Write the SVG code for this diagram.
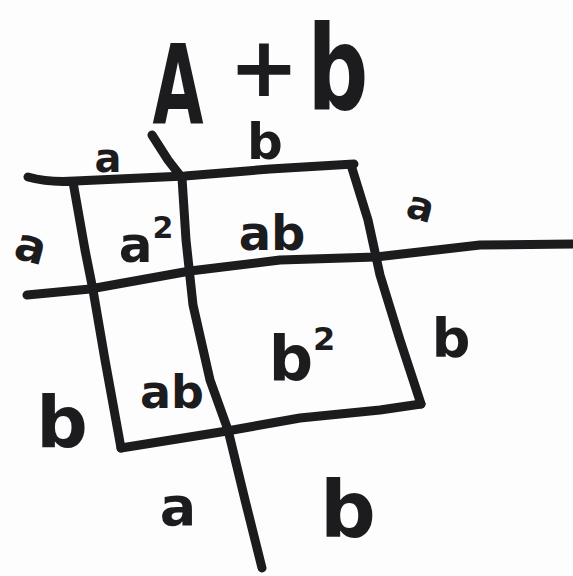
<svg xmlns="http://www.w3.org/2000/svg" width="573" height="576" viewBox="0 0 573 576">
<style>
.ln{fill:none;stroke:#1c1c1e;stroke-width:9;stroke-linecap:round;stroke-linejoin:round}
.t{font-family:"DejaVu Sans",sans-serif;font-weight:bold;fill:#1c1c1e;text-anchor:middle}
</style>
<rect width="573" height="576" fill="#fdfdfd"/>
<g id="grid">
<path class="ln" d="M28,177 Q50,183 75,181 L185,176 L270,169 L354,164"/>
<path class="ln" d="M73,182 L85,250 L93,290 L105,360 L121,448"/>
<path class="ln" d="M152,135 L168,160 L182,178 L186,240 L193,305 L210,380 L228,430 L245,500 L262,568"/>
<path class="ln" d="M351,165 L368,220 L380,275 L400,340 L421,404"/>
<path class="ln" d="M27,295 L90,289 L190,271 L280,260 L376,257 L480,245 L573,244"/>
<path class="ln" d="M121,448 L227,431 L300,418 L380,410 L421,404"/>
</g>
<g id="title">
<text class="t" x="0" y="0" font-size="110" transform="translate(178,124) scale(0.6,1)">A</text>
<text class="t" x="264" y="96" font-size="84">+</text>
<text class="t" x="0" y="0" font-size="118" transform="translate(338,110) scale(0.72,1)">b</text>
</g>
<g id="labels">
<text class="t" x="108" y="172" font-size="40">a</text>
<text class="t" x="265" y="159" font-size="50">b</text>
<text class="t" x="30" y="262" font-size="46" transform="rotate(15 30 250)">a</text>
<text class="t" x="420" y="220" font-size="40" transform="rotate(15 420 210)">a</text>
<text class="t" x="62" y="447" font-size="72">b</text>
<text class="t" x="451" y="357" font-size="54">b</text>
<text class="t" x="178" y="525" font-size="54">a</text>
<text class="t" x="348" y="537" font-size="78">b</text>
</g>
<g id="cells">
<text class="t" x="146" y="262" font-size="50">a<tspan font-size="30" dy="-24">2</tspan></text>
<text class="t" x="272" y="250" font-size="48">ab</text>
<text class="t" x="172" y="408" font-size="46">ab</text>
<text class="t" x="302" y="380" font-size="62">b<tspan font-size="32" dy="-30">2</tspan></text>
</g>
</svg>
